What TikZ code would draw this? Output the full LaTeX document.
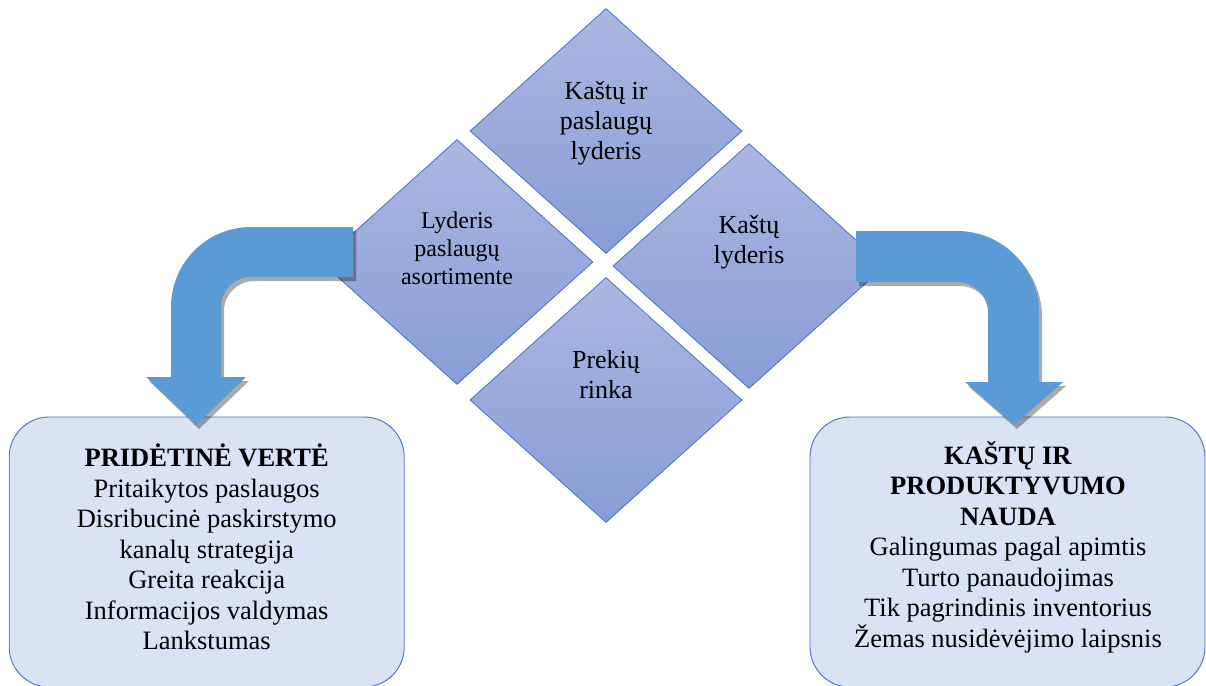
\documentclass[tikz,border=0pt]{standalone}
\usepackage{fontspec}
\setmainfont{Liberation Serif}
\usetikzlibrary{shapes.geometric}

\definecolor{diamtop}{RGB}{170,183,224}
\definecolor{diambot}{RGB}{136,157,214}
\definecolor{edgeblue}{RGB}{68,114,196}
\definecolor{boxfill}{RGB}{218,227,243}
\definecolor{arrowblue}{RGB}{91,155,213}

% outlines of the two bent block arrows
\newcommand{\BentArrowWest}{(353,-227) -- (251,-227) arc (90:180:80) -- (171,-377) -- (146,-377)
  -- (196,-425) -- (246,-377) -- (221,-377) -- (221,-307) arc (180:90:30) -- (353,-277) -- cycle}
\newcommand{\BentArrowEast}{(856,-231) -- (957,-231) arc (90:0:82) -- (1039,-382) -- (1063,-382)
  -- (1014,-425) -- (965,-382) -- (988,-382) -- (988,-313) arc (0:90:31) -- (856,-282) -- cycle}

\begin{document}
\begin{tikzpicture}[x=1pt,y=1pt,
  tile/.style={diamond, draw=edgeblue, line width=0.8pt, top color=diamtop, bottom color=diambot,
    minimum width=272pt, minimum height=245pt, inner sep=0pt},
  tiletext/.style={align=center, font=\fontsize{26}{30}\selectfont},
  tilesmall/.style={align=center, font=\fontsize{24}{28}\selectfont},
  panel/.style={draw=edgeblue, line width=0.9pt, fill=boxfill, rounded corners=40pt,
    minimum width=395pt, minimum height=270pt, inner sep=0pt},
  paneltext/.style={align=center, font=\fontsize{26.5}{30.5}\selectfont},
  bentarrow/.style={fill=arrowblue},
  arrowshadow/.style={fill=black, fill opacity=0.33}]
\useasboundingbox (0,0) rectangle (1206,-685);
\clip (0,0) rectangle (1206,-685);

% four strategy tiles
\node[tile] (dtop)    at (606,-131) {};
\node[tile] (dleft)   at (457,-262) {};
\node[tile] (dright)  at (749,-266) {};
\node[tile] (dbottom) at (606,-400) {};

\node[tiletext]  (ttop)    at (606,-123) {Kaštų ir\\paslaugų\\lyderis};
\node[tilesmall] (tleft)   at (457,-248) {Lyderis\\paslaugų\\asortimente};
\node[tiletext]  (tright)  at (749,-242) {Kaštų\\lyderis};
\node[tiletext]  (tbottom) at (606,-375) {Prekių\\rinka};

% two outcome panels
\node[panel] (boxl) at (206.7,-552) {};
\node[panel] (boxr) at (1007.5,-552) {};

\node[paneltext] (textl) at (206.7,-547) {\textbf{PRIDĖTINĖ VERTĖ}\\Pritaikytos paslaugos\\Disribucinė paskirstymo\\kanalų strategija\\Greita reakcija\\Informacijos valdymas\\Lankstumas};
\node[paneltext] (textr) at (1008,-547) {\textbf{KAŠTŲ IR}\\\textbf{PRODUKTYVUMO}\\\textbf{NAUDA}\\Galingumas pagal apimtis\\Turto panaudojimas\\Tik pagrindinis inventorius\\Žemas nusidėvėjimo laipsnis};

% bent arrows with their soft shadows
\begin{scope}[shift={(3,-4)}]
  \path[arrowshadow] \BentArrowWest;
  \path[arrowshadow] \BentArrowEast;
\end{scope}
\path[bentarrow] \BentArrowWest;
\path[bentarrow] \BentArrowEast;
\end{tikzpicture}
\end{document}
